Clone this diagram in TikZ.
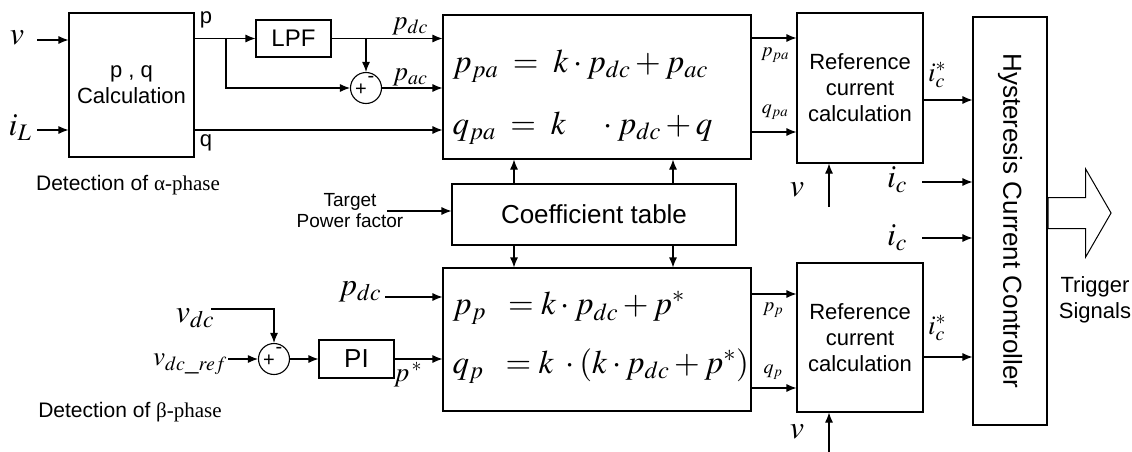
\documentclass[tikz,border=0pt]{standalone}
\usepackage{mathptmx}
\usepackage[no-math]{fontspec}
\setmainfont{Liberation Serif}
\setsansfont{Liberation Sans}
\usepackage{tikz}
\usetikzlibrary{arrows.meta, calc, positioning, shapes.arrows}
\begin{document}
\begin{tikzpicture}[x=1pt, y=-1pt, line width=1.1pt, >={Latex[length=10pt,width=8pt]},
  blk/.style={draw, inner sep=0pt, font=\sffamily\fontsize{22}{26}\selectfont, align=center},
  sumc/.style={draw, circle, minimum size=31pt, inner sep=0pt},
  sg/.style={inner sep=0pt, font=\sffamily\fontsize{20}{20}\selectfont},
  eqn/.style={anchor=west, inner sep=0pt, font=\fontsize{33}{38}\selectfont},
  lbl/.style={inner sep=0pt, font=\fontsize{32}{34}\selectfont},
  mlbl/.style={inner sep=0pt, font=\fontsize{27}{30}\selectfont},
  slbl/.style={inner sep=0pt, font=\fontsize{20}{22}\selectfont},
  txt/.style={inner sep=0pt, font=\sffamily\fontsize{21}{24}\selectfont, align=center}]
\useasboundingbox (0,0) rectangle (1132,452);
\node[blk, minimum width=125pt, minimum height=144pt] (calc) at (131.5,85) {p , q\\Calculation};
\node[blk, minimum width=75pt, minimum height=37pt, font=\sffamily\fontsize{24}{24}\selectfont] (lpf) at (293.5,38.5) {LPF};
\node[sumc] (sum1) at (366,88) {};
\node[sg] at ([xshift=-5pt,yshift=-2pt]sum1.center) {+};
\node[sg] at ([xshift=5pt,yshift=9pt]sum1.center) {-};
\node[blk, minimum width=308pt, minimum height=144pt] (eqa) at (597,87) {};
\node[blk, minimum width=284pt, minimum height=61pt, font=\sffamily\fontsize{26}{26}\selectfont] (coef) at (594,214.5) {Coefficient table};
\node[blk, minimum width=308pt, minimum height=143pt] (eqb) at (597,339.5) {};
\node[sumc] (sum2) at (274,359) {};
\node[sg] at ([xshift=-5pt,yshift=-2pt]sum2.center) {+};
\node[sg] at ([xshift=5pt,yshift=9pt]sum2.center) {-};
\node[blk, minimum width=75pt, minimum height=38pt, font=\sffamily\fontsize{26}{26}\selectfont] (pi) at (356.5,359) {PI};
\node[blk, minimum width=126pt, minimum height=150pt] (refa) at (860,88) {Reference\\current\\calculation};
\node[blk, minimum width=126pt, minimum height=149pt] (refb) at (860,337.5) {Reference\\current\\calculation};
\node[blk, minimum width=74pt, minimum height=408pt] (hcc) at (1010,221) {};
\node[rotate=-90, inner sep=0pt, font=\sffamily\fontsize{26}{26}\selectfont] (hcct) at (hcc.center) {Hysteresis Current Controller};
\node[draw, single arrow, single arrow tip angle=120, single arrow head extend=28.5pt, minimum height=63pt, inner xsep=0pt, inner ysep=15pt, anchor=west, line width=1pt] (trig) at ([yshift=8pt]hcc.east) {};
\node[txt, font=\sffamily\fontsize{22}{26}\selectfont] (trigl) at (1095,300) {Trigger\\Signals};
\node[eqn] (eqa1) at (452,66) {$p_{pa}\;=\;k\cdot p_{dc} + p_{ac}$};
\node[eqn] (eqa2) at (452,128) {$q_{pa}\;=\;k\quad\cdot p_{dc} + q$};
\node[eqn] (eqb1) at (452,308) {$p_{p}\;\; =k\cdot p_{dc} + p^{*}$};
\node[eqn] (eqb2) at (452,366) {$q_{p}\;\; =k\;\cdot(k\cdot p_{dc} + p^{*})$};
\node[lbl] (vl) at (17,38) {$v$};
\node[lbl] (iLl) at (20,128) {$i_{L}$};
\node[txt, font=\sffamily\fontsize{22}{22}\selectfont] (pl) at (206,20) {p};
\node[txt, font=\sffamily\fontsize{22}{22}\selectfont] (ql) at (206,143) {q};
\node[mlbl] (pdcal) at (410,26) {$p_{dc}$};
\node[mlbl] (pacl) at (410,77) {$p_{ac}$};
\node[txt] (deta) at (128,185) {Detection of {\rmfamily α-phase}};
\node[txt, font=\sffamily\fontsize{19}{21}\selectfont] (tgtl) at (350,211) {Target\\Power factor};
\node[lbl] (pdcbl) at (360,292) {$p_{dc}$};
\node[lbl] (vdcl) at (195,318) {$v_{dc}$};
\node[mlbl] (vdcrl) at (190,364) {$v_{dc\_ref}$};
\node[mlbl] (pstl) at (408,375) {$p^{\,*}$};
\node[txt] (detb) at (130,412) {Detection of {\rmfamily β-phase}};
\node[slbl] (ppal) at (775,55) {$p_{pa}$};
\node[slbl] (qpal) at (775,112) {$q_{pa}$};
\node[slbl] (ppl) at (773,310) {$p_{p}$};
\node[slbl] (qpl) at (773,372) {$q_{p}$};
\node[mlbl] (icsa) at (937,75) {$i_c^{*}$};
\node[mlbl] (icsb) at (937,328) {$i_c^{*}$};
\node[lbl] (val) at (797,190) {$v$};
\node[lbl] (vbl) at (797,432) {$v$};
\node[lbl] (ic1l) at (897,180) {$i_c$};
\node[lbl] (ic2l) at (897,238) {$i_c$};
\coordinate (vin) at (37,40);
\coordinate (iLin) at (37,130);
\coordinate (br1) at (226,38);
\coordinate (br2) at (366,38);
\coordinate (tgt) at (387,211);
\coordinate (pdcb) at (385,297);
\coordinate (vdc) at (211,309);
\coordinate (vdcr) at (228,359);
\coordinate (ppa) at (751,38);
\coordinate (qpa) at (751,132);
\coordinate (pp) at (751,294);
\coordinate (qp) at (751,388);
\coordinate (icra) at (923,100);
\coordinate (icrb) at (923,357);
\coordinate (ic1) at (922,182);
\coordinate (ic2) at (922,238);
\coordinate (va) at (829,207);
\coordinate (vb) at (829,452);
\draw[->] (vin) -- (vin -| calc.west);
\draw[->] (iLin) -- (iLin -| calc.west);
\draw[->] (calc.east |- lpf) -- (lpf.west);
\draw[->] (br1) |- (sum1.west);
\draw[->] (lpf.east) -- (lpf.east -| eqa.west);
\draw[->] (br2) -- (sum1.north);
\draw[->] (sum1.east) -- (sum1 -| eqa.west);
\draw[->] (calc.east |- iLin) -- (iLin -| eqa.west);
\draw[->] ([xshift=-80pt]coef.north) -- ([xshift=-80pt]coef.north |- eqa.south);
\draw[->] ([xshift=79pt]coef.north) -- ([xshift=79pt]coef.north |- eqa.south);
\draw[->] ([xshift=-80pt]coef.south) -- ([xshift=-80pt]coef.south |- eqb.north);
\draw[->] ([xshift=79pt]coef.south) -- ([xshift=79pt]coef.south |- eqb.north);
\draw[->] (tgt) -- (tgt -| coef.west);
\draw[->] (pdcb) -- (pdcb -| eqb.west);
\draw[->] (vdc) -| (sum2.north);
\draw[->] (vdcr) -- (sum2.west);
\draw[->] (sum2.east) -- (pi.west);
\draw[->] (pi.east) -- (pi -| eqb.west);
\draw[->] (ppa) -- (ppa -| refa.west);
\draw[->] (qpa) -- (qpa -| refa.west);
\draw[->] (pp) -- (pp -| refb.west);
\draw[->] (qp) -- (qp -| refb.west);
\draw[->] (icra) -- (icra -| hcc.west);
\draw[->] (icrb) -- (icrb -| hcc.west);
\draw[->] (ic1) -- (ic1 -| hcc.west);
\draw[->] (ic2) -- (ic2 -| hcc.west);
\draw[->] (va) -- (va |- refa.south);
\draw[->] (vb) -- (vb |- refb.south);
\end{tikzpicture}
\end{document}
